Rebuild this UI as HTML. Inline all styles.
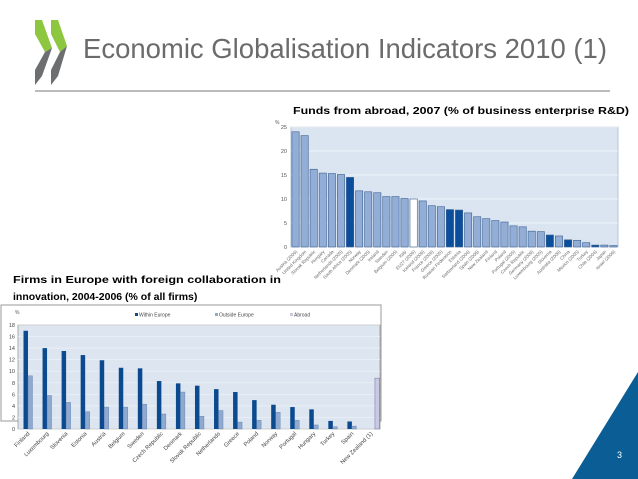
<!DOCTYPE html>
<html><head><meta charset="utf-8"><style>
body{margin:0;background:#fff;}
svg{display:block;font-family:"Liberation Sans",sans-serif;}
</style></head><body>
<svg width="638" height="479" viewBox="0 0 638 479">
<g>
<polygon points="35,20 42,20 52,48 45,52 35,34" fill="#8dc63f"/>
<polygon points="45,52 52,48 42,76 35,85 35,70" fill="#6d6e70"/>
<polygon points="51,20 58,20 67,46 60,52 51,34" fill="#8dc63f"/>
<polygon points="60,52 67,46 58,76 51,85 51,70" fill="#6d6e70"/>
</g>
<text x="83" y="58" font-size="28" fill="#6b6b6b" textLength="524" lengthAdjust="spacingAndGlyphs">Economic Globalisation Indicators 2010 (1)</text>
<line x1="35" y1="91" x2="610" y2="91" stroke="#777" stroke-width="1"/>
<text x="293" y="114" font-size="10.5" font-weight="bold" fill="#000" textLength="336" lengthAdjust="spacingAndGlyphs">Funds from abroad, 2007 (% of business enterprise R&amp;D)</text>
<text x="13" y="283" font-size="10.5" font-weight="bold" fill="#000" textLength="268" lengthAdjust="spacingAndGlyphs">Firms in Europe with foreign collaboration in</text>
<text x="13" y="300" font-size="10.5" font-weight="bold" fill="#000">innovation, 2004-2006 (% of all firms)</text>
<g id="top"></g>
<g id="bot"></g>
<polygon points="638,372 638,479 572,479" fill="#0a5e95"/>
<text x="617" y="458" font-size="9" fill="#fff">3</text>
</svg>
<script>
const topLabels=["Austria (2006)","United Kingdom","Slovak Republic","Hungary","Canada","Netherlands (2005)","South Africa (2005)","Norway","Denmark (2005)","Ireland","Sweden","Belgium (2005)","Italy","EU27 (2006)","Iceland (2006)","France (2006)","Greece (2005)","Russian Federation","Estonia","Switzerland (2004)","Spain (2006)","New Zealand","Finland","Poland","Portugal (2005)","Czech Republic","Germany (2006)","Luxembourg (2005)","Slovenia","Australia (2006)","China","Mexico (2005)","Turkey","Chile (2004)","Japan","Israel (2006)"];
const topValues=[24,23.2,16.2,15.4,15.3,15.1,14.5,11.7,11.5,11.3,10.5,10.5,10.1,10,9.6,8.6,8.4,7.8,7.7,7.1,6.3,5.9,5.5,5.2,4.4,4.2,3.3,3.2,2.5,2.3,1.5,1.4,0.9,0.4,0.4,0.3];
const topKind=["l","l","l","l","l","l","d","l","l","l","l","l","l","w","l","l","l","d","d","l","l","l","l","l","l","l","l","l","d","l","d","l","l","d","l","l"];
const topTicks=[0,5,10,15,20,25];
const botLabels=["Finland","Luxembourg","Slovenia","Estonia","Austria","Belgium","Sweden","Czech Republic","Denmark","Slovak Republic","Netherlands","Greece","Poland","Norway","Portugal","Hungary","Turkey","Spain","New Zealand (1)"];
const withinEurope=[17,14,13.5,12.8,11.9,10.6,10.5,8.3,7.9,7.5,6.9,6.4,5,4.2,3.8,3.4,1.4,1.3,null];
const outsideEurope=[9.2,5.8,4.6,3,3.8,3.8,4.3,2.6,6.4,2.2,3.2,1.2,1.5,2.9,1.5,0.7,0.4,0.5,null];
const abroad=[null,null,null,null,null,null,null,null,null,null,null,null,null,null,null,null,null,null,8.8];
const botTicks=[0,2,4,6,8,10,12,14,16,18];
const NS="http://www.w3.org/2000/svg";
function mk(p,t,a,txt){const e=document.createElementNS(NS,t);for(const k in a)e.setAttribute(k,a[k]);if(txt!==undefined)e.textContent=txt;p.appendChild(e);return e;}
// top chart
(function(){
const g=document.getElementById('top');
const x0=291,x1=618,y0=247,y1=127,max=25;
const y=v=>y0-(v/max)*(y0-y1);
const step=(x1-x0)/topValues.length;
const bg=mk(g,'rect',{x:x0,y:y1,width:x1-x0,height:y0-y1,fill:'#dbe5f1',stroke:'#b8c4d4'});

mk(g,'text',{x:275,y:124,'font-size':5,fill:'#555'},'%');
topTicks.forEach(t=>{
 const l=mk(g,'line',{x1:x0,x2:x1,y1:y(t),y2:y(t),stroke:'#f2f6fb','stroke-width':0.8});
 
 const tx=mk(g,'text',{x:x0-4,y:y(t)+2,'font-size':5.5,fill:'#555','text-anchor':'end'},t);
 
});
topValues.forEach((v,i)=>{
 const cx=x0+step*(i+0.5),w=step*0.8;
 const fill=topKind[i]==='d'?'#0b4f9c':topKind[i]==='w'?'#ffffff':'#93aed6';
 const r=mk(g,'rect',{x:cx-w/2,y:y(v),width:w,height:y0-y(v),fill:fill,stroke:'#3a5f8f','stroke-width':0.6});
 
 const tx=mk(g,'text',{x:cx+2,y:y0+5,'font-size':4.5,fill:'#666','text-anchor':'end',transform:`rotate(-45 ${cx+2} ${y0+5})`},topLabels[i]);
 
});
})();
// bottom chart
(function(){
const g=document.getElementById('bot');
const x0=18,x1=380,y0=429,y1=325,max=18;
const y=v=>y0-(v/max)*(y0-y1);
const step=(x1-x0)/botLabels.length;
const fr=mk(g,'rect',{x:1,y:305,width:380,height:116,fill:'none',stroke:'#999'});

const bg=mk(g,'rect',{x:x0,y:y1,width:x1-x0,height:y0-y1,fill:'#dde6f0',stroke:'#999','stroke-width':0.8});

mk(g,'text',{x:15,y:314,'font-size':5,fill:'#555'},'%');
const leg=[['Within Europe','#0b4a8f',135],['Outside Europe','#8fa9cf',215],['Abroad','#c9c9e6',290]];
leg.forEach(l=>{
 const r=mk(g,'rect',{x:l[2],y:313,width:3,height:3,fill:l[1]});
 
 const t=mk(g,'text',{x:l[2]+4,y:316.5,'font-size':5,fill:'#444'},l[0]);
 
});
botTicks.forEach(t=>{
 const l=mk(g,'line',{x1:x0,x2:x1,y1:y(t),y2:y(t),stroke:'#eef3f8','stroke-width':0.6});
 
 const tx=mk(g,'text',{x:x0-3,y:y(t)+2,'font-size':5.5,fill:'#444','text-anchor':'end'},t);
 
});
botLabels.forEach((lab,i)=>{
 const gx=x0+step*i+10;
 const bw=4.5;
 if(withinEurope[i]!=null){
  const r=mk(g,'rect',{x:gx-bw,y:y(withinEurope[i]),width:bw,height:y0-y(withinEurope[i]),fill:'#0b4a8f'});
  
 }
 if(outsideEurope[i]!=null){
  const r=mk(g,'rect',{x:gx,y:y(outsideEurope[i]),width:bw,height:y0-y(outsideEurope[i]),fill:'#8fa9cf',stroke:'#5f7fae','stroke-width':0.4});
  
 }
 if(abroad[i]!=null){
  const r=mk(g,'rect',{x:gx+4,y:y(abroad[i]),width:bw,height:y0-y(abroad[i]),fill:'#c9c9e6',stroke:'#6f6f9a','stroke-width':0.5});
  
 }
 const tx=mk(g,'text',{x:gx+2,y:y0+5,'font-size':5.8,fill:'#444','text-anchor':'end',transform:`rotate(-45 ${gx+2} ${y0+5})`},lab);
 
});
})();
</script>
</body></html>
